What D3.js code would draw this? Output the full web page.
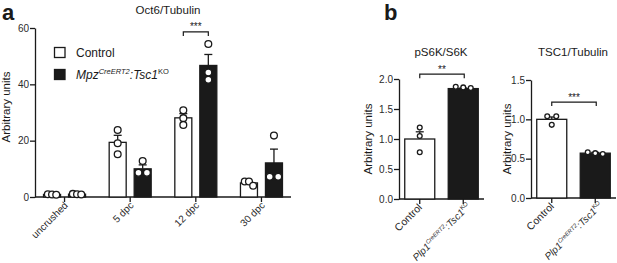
<!DOCTYPE html>
<html>
<head>
<meta charset="utf-8">
<script src="https://cdn.jsdelivr.net/npm/d3@7"></script>
<style>
  body { margin:0; background:#fff; }
  svg { font-family: "Liberation Sans", Arial, sans-serif; }
</style>
</head>
<body>
<div id="chart"></div>
<script>
// panel a : Oct6/Tubulin
var groupsA = ["uncrushed", "5 dpc", "12 dpc", "30 dpc"];
var oct6Mean = { control: [0.9, 19.4, 28.1, 5.0], ko: [1.0, 10.0, 46.7, 12.1] };
var oct6Err  = { control: [0.1, 2.5, 1.5, 0.5], ko: [0.1, 1.4, 3.9, 4.9] };
var oct6Pts  = {
  control: [[0.8, 1.0, 0.9], [23.8, 19.1, 15.2], [30.8, 28.0, 25.6], [5.5, 5.5, 4.0]],
  ko:      [[1.0, 0.9, 1.1], [12.8, 8.6, 8.6], [54.3, 41.6, 44.2], [21.8, 7.2, 7.2]]
};
var ticksA = [0, 20, 40, 60];

// panel b
var groupsB = ["Control", "KO"];
var s6kMean = [1.0, 1.84], s6kErr = [0.12, 0.01];
var s6kPts = [[1.19, 1.05, 0.78], [1.87, 1.85, 1.86]];
var ticksS6K = [0, 0.5, 1.0, 1.5, 2.0];
var tscMean = [1.0, 0.57], tscErr = [0.03, 0.01];
var tscPts = [[1.04, 1.04, 0.93], [0.58, 0.56, 0.57]];
var ticksTSC = [0, 0.5, 1.0, 1.5];

var W = 617, H = 263;
var svg = d3.select("#chart").append("svg").attr("width", W).attr("height", H);
var ink = "#1a1a1a", tickInk = "#2b2b2b";

svg.append("text").attr("x", 2).attr("y", 20).attr("font-size", 22).attr("font-weight", "bold").attr("fill", ink).text("a");
svg.append("text").attr("x", 384).attr("y", 20).attr("font-size", 22).attr("font-weight", "bold").attr("fill", ink).text("b");

function yAxis(g, y, ticks, fmt){
  var ax = g.append("g").attr("transform", "translate(" + y.x0 + ",0)")
    .call(d3.axisLeft(y).tickValues(ticks).tickFormat(fmt).tickSize(5).tickSizeOuter(0));
  ax.select(".domain").attr("stroke", ink).attr("stroke-width", 1.3);
  ax.selectAll(".tick line").attr("stroke", ink).attr("stroke-width", 1.3);
  ax.selectAll(".tick text").attr("font-size", 10).attr("fill", tickInk).attr("x", -6)
    .attr("font-family", "Liberation Sans, Arial");
}

function xAxisLine(g, x0, x1, y0, tickXs){
  g.append("line").attr("x1", x0).attr("x2", x1).attr("y1", y0).attr("y2", y0)
    .attr("stroke", ink).attr("stroke-width", 1.3);
  tickXs.forEach(function(t){
    g.append("line").attr("x1", t).attr("x2", t).attr("y1", y0).attr("y2", y0 + 5)
      .attr("stroke", ink).attr("stroke-width", 1.3);
  });
}

function drawBar(g, cx, bw, y, mean, err, pts, fill, r, spread){
  var y0 = y(0);
  // error bar (upper only)
  g.append("line").attr("x1", cx).attr("x2", cx).attr("y1", y(mean)).attr("y2", y(mean + err))
    .attr("stroke", ink).attr("stroke-width", 1.3);
  g.append("line").attr("x1", cx - 4).attr("x2", cx + 4).attr("y1", y(mean + err)).attr("y2", y(mean + err))
    .attr("stroke", ink).attr("stroke-width", 1.3);
  g.append("rect").attr("x", cx - bw / 2).attr("y", y(mean)).attr("width", bw).attr("height", y0 - y(mean))
    .attr("fill", fill).attr("stroke", ink).attr("stroke-width", 1.3);
  // points, near-equal values spread sideways
  var sorted = pts.map(function(v){ return { v: v, py: y(v) }; }).sort(function(a, b){ return a.py - b.py; });
  var clusters = [];
  sorted.forEach(function(p){
    var last = clusters[clusters.length - 1];
    if (last && Math.abs(p.py - last[last.length - 1].py) < r * 1.6) last.push(p);
    else clusters.push([p]);
  });
  clusters.forEach(function(c){
    var step = spread(c.length);
    c.forEach(function(p, i){
      g.append("circle").attr("cx", cx + (i - (c.length - 1) / 2) * step).attr("cy", p.py).attr("r", r)
        .attr("fill", "#fff").attr("stroke", ink).attr("stroke-width", 1.3);
    });
  });
}

function bracket(g, xa, xb, yy, label){
  g.append("path").attr("d", "M" + xa + "," + (yy + 4) + "V" + yy + "H" + xb + "V" + (yy + 4))
    .attr("fill", "none").attr("stroke", ink).attr("stroke-width", 1.2);
  g.append("text").attr("x", (xa + xb) / 2).attr("y", yy - 1.5).attr("text-anchor", "middle")
    .attr("font-size", 10).attr("fill", ink).text(label);
}

function yLabel(g, x, yc){
  g.append("text").attr("transform", "translate(" + x + "," + yc + ") rotate(-90)")
    .attr("text-anchor", "middle").attr("font-size", 11.5).attr("fill", ink).text("Arbitrary units");
}

// ---------------- panel a
var gA = svg.append("g");
var yA = d3.scaleLinear().domain([0, 60]).range([197, 28]);
yA.x0 = 35;
var xA = d3.scalePoint().domain(groupsA).range([35, 291]).padding(0.45);
var sub = d3.scaleBand().domain(["control", "ko"]).range([-21, 21]).paddingInner(0.32).paddingOuter(0);

yAxis(gA, yA, ticksA, d3.format("d"));
xAxisLine(gA, 35, 291, yA(0), groupsA.map(function(d){ return xA(d); }));
groupsA.forEach(function(d, i){
  ["control", "ko"].forEach(function(k){
    var cx = xA(d) + sub(k) + sub.bandwidth() / 2;
    drawBar(gA, cx, sub.bandwidth(), yA, oct6Mean[k][i], oct6Err[k][i], oct6Pts[k][i],
      k == "control" ? "#fff" : ink, 3.4, function(n){ return n == 2 ? 8.5 : 4.2; });
  });
  gA.append("text").attr("transform", "translate(" + (xA(d) + 4) + "," + (yA(0) + 9) + ") rotate(-45)")
    .attr("text-anchor", "end").attr("font-size", 10).attr("fill", tickInk).text(d);
});
gA.append("text").attr("x", 168).attr("y", 14).attr("text-anchor", "middle").attr("font-size", 11.5).attr("fill", ink).text("Oct6/Tubulin");
yLabel(gA, 10, 107);
bracket(gA, xA("12 dpc") + sub("control") + sub.bandwidth() / 2, xA("12 dpc") + sub("ko") + sub.bandwidth() / 2, yA(58.6), "***");

// legend
gA.append("rect").attr("x", 54.5).attr("y", 47.5).attr("width", 10.5).attr("height", 10).attr("fill", "#fff").attr("stroke", ink).attr("stroke-width", 1.3);
gA.append("text").attr("x", 76).attr("y", 57).attr("font-size", 12).attr("fill", ink).text("Control");
gA.append("rect").attr("x", 54.5).attr("y", 69.5).attr("width", 10.5).attr("height", 10).attr("fill", ink).attr("stroke", ink).attr("stroke-width", 1.3);
var lt = gA.append("text").attr("x", 76).attr("y", 79).attr("font-size", 12).attr("fill", ink).attr("font-style", "italic");
lt.append("tspan").text("Mpz");
lt.append("tspan").attr("font-size", 7.5).attr("dy", -5).text("CreERT2");
lt.append("tspan").attr("dy", 5).text(":Tsc1");
lt.append("tspan").attr("font-size", 7.5).attr("dy", -5).attr("font-style", "normal").text("KO");

// ---------------- panel b
function panelB(x0, y, ticks, title, mean, err, pts, stars, level, labelX){
  var g = svg.append("g");
  y.x0 = x0;
  var x = d3.scaleBand().domain(groupsB).range([x0, x0 + 85]).paddingInner(0.31).paddingOuter(0.132);
  yAxis(g, y, ticks, d3.format(".1f"));
  var cxs = groupsB.map(function(d){ return x(d) + x.bandwidth() / 2; });
  xAxisLine(g, x0, x0 + 85, y(0), cxs);
  groupsB.forEach(function(d, i){
    drawBar(g, cxs[i], x.bandwidth(), y, mean[i], err[i], pts[i], i == 0 ? "#fff" : ink, 2.4,
      function(n){ return n == 2 ? 9 : 7.5; });
  });
  g.append("text").attr("x", x0 + 42).attr("y", 56).attr("text-anchor", "middle").attr("font-size", 11.5).attr("fill", ink).text(title);
  yLabel(g, labelX, 139);
  bracket(g, cxs[0], cxs[1] + 1, y(level), stars);
  g.append("text").attr("transform", "translate(" + (cxs[0] + 3) + "," + (y(0) + 9) + ") rotate(-45)")
    .attr("text-anchor", "end").attr("font-size", 10.5).attr("fill", tickInk).text("Control");
  var t = g.append("text").attr("transform", "translate(" + (cxs[1] + 8) + "," + (y(0) + 8) + ") rotate(-45)")
    .attr("text-anchor", "end").attr("font-size", 10).attr("fill", tickInk).attr("font-style", "italic");
  t.append("tspan").text("Plp1");
  t.append("tspan").attr("font-size", 6).attr("dy", -4).text("CreERT2");
  t.append("tspan").attr("dy", 4).text(":Tsc1");
  t.append("tspan").attr("font-size", 6).attr("dy", -4).attr("font-style", "normal").text("KO");
}
panelB(399, d3.scaleLinear().domain([0, 2]).range([199, 79]), ticksS6K, "pS6K/S6K",
  s6kMean, s6kErr, s6kPts, "**", 2.08, 372);
panelB(531, d3.scaleLinear().domain([0, 1.5]).range([198, 80]), ticksTSC, "TSC1/Tubulin",
  tscMean, tscErr, tscPts, "***", 1.22, 511);
</script>
</body>
</html>
